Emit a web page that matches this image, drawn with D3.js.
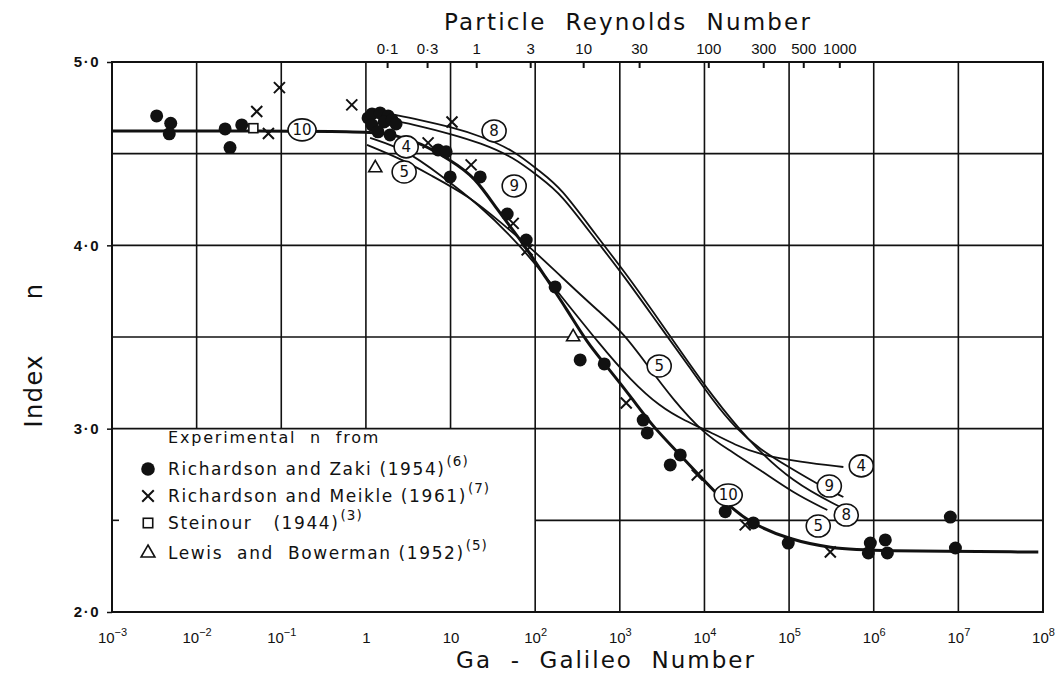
<!DOCTYPE html>
<html>
<head>
<meta charset="utf-8">
<script src="https://cdn.jsdelivr.net/npm/d3@7"></script>
<style>
  body { margin: 0; background: #fff; }
  svg { display: block; font-family: "DejaVu Sans", "Liberation Sans", sans-serif; }
</style>
</head>
<body>
<svg id="chart" width="1058" height="674"></svg>
<script>
// ---- Axis values -------------------------------------------------------
const decadeExps = [-3, -2, -1, 0, 1, 2, 3, 4, 5, 6, 7, 8];
const nTicks = [2, 3, 4, 5];
const nTickLabels = ["2·0", "3·0", "4·0", "5·0"];
const gridN = [4.5, 4.0, 3.5, 3.0, 2.5];

// Particle Reynolds number marks on the upper axis, placed at their Galileo number
const reTickGa = [1.78, 5.28, 20.1, 87.3, 369, 1690, 11100, 49500, 147000, 392000];
const reTickLabels = ["0·1", "0·3", "1", "3", "10", "30", "100", "300", "500", "1000"];

// ---- Correlation curves: [Ga, n] ---------------------------------------
const curve10 = [[1e-3, 4.624], [1.12, 4.624], [2.2, 4.602], [4.4, 4.559], [9.9, 4.466],
  [19.5, 4.373], [35.6, 4.193], [72, 4.013], [139, 3.811], [239, 3.648], [412, 3.468],
  [710, 3.337], [1440, 3.157], [2480, 3.009], [5180, 2.857], [15400, 2.622],
  [32100, 2.491], [1.03e5, 2.393], [3.07e5, 2.349], [9.9e5, 2.333], [8.8e7, 2.327]];
const curve5 = [[1.03, 4.548], [2.75, 4.466], [5.74, 4.384], [17.1, 4.264], [38.5, 4.128],
  [94.6, 3.975], [198, 3.833], [586, 3.632], [1100, 3.523], [2110, 3.347], [4280, 3.157],
  [9680, 2.977], [18600, 2.889], [45700, 2.775], [112000, 2.649], [283000, 2.556]];
const curve4 = [[1.12, 4.586], [2.99, 4.520], [7.53, 4.384], [20.6, 4.231], [66.5, 4.003],
  [198, 3.729], [586, 3.457], [1330, 3.266], [3010, 3.118], [5930, 3.042], [11700, 2.982],
  [23100, 2.911], [45700, 2.857], [135000, 2.818], [438000, 2.791]];
const curve8 = [[1.93, 4.717], [4.38, 4.684], [9.9, 4.646], [22.4, 4.597], [55, 4.520],
  [115, 4.400], [198, 4.319], [541, 4.046], [1100, 3.866], [3010, 3.582], [6790, 3.347],
  [11700, 3.195], [32100, 2.938], [112000, 2.704], [403000, 2.573]];
const curve9 = [[1.93, 4.684], [4.38, 4.651], [9.9, 4.608], [22.4, 4.559], [55, 4.482],
  [115, 4.368], [198, 4.286], [541, 4.019], [1100, 3.838], [3010, 3.555], [6790, 3.331],
  [12400, 3.157], [23100, 3.004], [45700, 2.884], [103000, 2.786], [215000, 2.698],
  [438000, 2.627]];

// circled curve numbers: [label, Ga, n]
const curveLabels = [["10", 0.176, 4.63], ["4", 2.99, 4.537], ["5", 2.83, 4.40],
  ["8", 32.7, 4.624], ["9", 56.5, 4.324], ["5", 2920, 3.342], ["10", 19100, 2.638],
  ["4", 713000, 2.797], ["9", 299000, 2.687], ["8", 474000, 2.529], ["5", 221000, 2.469]];

// ---- Experimental points: [Ga, n] --------------------------------------
const zakiPts = [[0.00337, 4.706], [0.00494, 4.666], [0.00475, 4.608], [0.0217, 4.635],
  [0.0341, 4.657], [0.0248, 4.533], [1.06, 4.695], [1.18, 4.717], [1.47, 4.722],
  [1.83, 4.706], [1.18, 4.657], [1.64, 4.673], [2.04, 4.684], [1.39, 4.619], [1.93, 4.602],
  [2.27, 4.662], [7.13, 4.520], [8.87, 4.510], [9.9, 4.373], [22.4, 4.373], [46.7, 4.171],
  [78.3, 4.029], [172, 3.773], [340, 3.375], [655, 3.353], [1890, 3.047], [2110, 2.977],
  [5180, 2.857], [3940, 2.802], [17600, 2.547], [37800, 2.486], [97800, 2.376],
  [912000, 2.376], [1.37e6, 2.393], [1.45e6, 2.322], [863000, 2.322], [8.04e6, 2.518],
  [9.23e6, 2.349]];
const meiklePts = [[0.0513, 4.73], [0.0705, 4.61], [0.0951, 4.86], [0.681, 4.766],
  [5.43, 4.559], [10.4, 4.673], [17.5, 4.439], [55, 4.12], [80.4, 3.975], [1190, 3.14],
  [8220, 2.747], [30300, 2.475], [307000, 2.327]];
const steinourPts = [[0.0468, 4.639]];
const lewisPts = [[1.29, 4.422], [281, 3.50]];

// ---- Legend entries ------------------------------------------------------
const legendTitle = "Experimental  n  from";
const legendNames = ["Richardson and Zaki (1954)", "Richardson and Meikle (1961)",
  "Steinour   (1944)", "Lewis  and  Bowerman (1952)"];
const legendRefs = ["(6)", "(7)", "(3)", "(5)"];
const legendKinds = ["dot", "cross", "square", "triangle"];

// ---- Drawing -------------------------------------------------------------
const svg = d3.select("#chart");
const ink = "#111";
const x = d3.scaleLog().domain([1e-3, 1e8]).range([112, 1043]);
const y = d3.scaleLinear().domain([2, 5]).range([612, 62]);

// grid: the lower-left panel is left clear for the key
const grid = svg.append("g").attr("stroke", ink).attr("stroke-width", 1.6);
grid.selectAll("line.v")
  .data(decadeExps.filter(e => e > -3 && e < 8))
  .join("line").attr("class", "v")
  .attr("x1", e => x(10 ** e)).attr("x2", e => x(10 ** e))
  .attr("y1", y(5)).attr("y2", e => (e < 2 ? y(3) : y(2)));
grid.selectAll("line.h")
  .data(gridN)
  .join("line").attr("class", "h")
  .attr("x1", n => (n < 3 ? x(100) : x(1e-3))).attr("x2", x(1e8))
  .attr("y1", n => y(n)).attr("y2", n => y(n));
// short mark for n = 2.5 on the left edge
grid.append("line")
  .attr("x1", x(1e-3)).attr("x2", x(1e-3) + 7)
  .attr("y1", y(2.5)).attr("y2", y(2.5));

// frame
svg.append("rect")
  .attr("x", x(1e-3)).attr("y", y(5))
  .attr("width", x(1e8) - x(1e-3)).attr("height", y(2) - y(5))
  .attr("fill", "none").attr("stroke", ink).attr("stroke-width", 2);

// left axis
const leftAxis = svg.append("g").attr("transform", `translate(${x(1e-3)},0)`)
  .call(d3.axisLeft(y).tickValues(nTicks).tickFormat((d, i) => nTickLabels[i])
    .tickSize(5).tickPadding(7));
leftAxis.select(".domain").remove();
leftAxis.selectAll("line").attr("stroke", ink).attr("stroke-width", 1.5);
leftAxis.selectAll("text").attr("font-size", 15).attr("font-weight", "bold")
  .attr("letter-spacing", 1.5).attr("fill", ink);

// upper axis: particle Reynolds number
const reAxis = svg.append("g").attr("transform", `translate(0,${y(5)})`)
  .call(d3.axisTop(x).tickValues(reTickGa).tickFormat((d, i) => reTickLabels[i])
    .tickSize(-6).tickPadding(8));
reAxis.select(".domain").remove();
reAxis.selectAll("line").attr("stroke", ink).attr("stroke-width", 2);
reAxis.selectAll("text").attr("font-size", 15).attr("fill", ink);

// lower axis labels (powers of ten)
const gaAxis = svg.append("g").attr("transform", `translate(0,${y(2)})`)
  .call(d3.axisBottom(x).tickValues(decadeExps.map(e => 10 ** e)).tickSize(0).tickFormat(() => ""));
gaAxis.select(".domain").remove();
const bl = gaAxis.selectAll(".tick").append("text")
  .attr("y", 31).attr("fill", ink).attr("font-size", 15).attr("text-anchor", "middle");
bl.append("tspan").text(d => {
  const e = Math.round(Math.log10(d));
  return e === 0 ? "1" : "10";
});
bl.append("tspan").attr("dy", -7).attr("font-size", 11)
  .text(d => {
    const e = Math.round(Math.log10(d));
    return (e === 0 || e === 1) ? "" : (e < 0 ? "\u2212" + (-e) : String(e));
  });

// axis titles
svg.append("text").attr("x", 628).attr("y", 30).attr("text-anchor", "middle")
  .attr("font-size", 23).attr("letter-spacing", 2.2).attr("fill", ink)
  .attr("style", "white-space:pre").text("Particle  Reynolds  Number");
svg.append("text").attr("x", 606).attr("y", 668).attr("text-anchor", "middle")
  .attr("font-size", 23).attr("letter-spacing", 2).attr("fill", ink)
  .attr("style", "white-space:pre").text("Ga  -  Galileo  Number");
svg.append("text").attr("transform", "translate(42,355) rotate(-90)")
  .attr("text-anchor", "middle").attr("font-size", 24).attr("letter-spacing", 1.5)
  .attr("fill", ink).attr("style", "white-space:pre").text("Index      n");

// correlation curves (smooth B-splines through the read-off points)
const line = d3.line().x(d => x(d[0])).y(d => y(d[1])).curve(d3.curveBasis);
const curves = [[curve4, 1.8], [curve5, 1.8], [curve8, 1.8], [curve9, 1.8], [curve10, 3]];
svg.append("g").selectAll("path").data(curves).join("path")
  .attr("d", d => line(d[0])).attr("fill", "none").attr("stroke", ink)
  .attr("stroke-width", d => d[1]).attr("stroke-linejoin", "round");

// circled curve numbers
const lab = svg.append("g").selectAll("g").data(curveLabels).join("g")
  .attr("transform", d => `translate(${x(d[1])},${y(d[2])})`);
lab.append("ellipse").attr("rx", d => (d[0].length > 1 ? 14 : 12)).attr("ry", 11)
  .attr("fill", "#fff").attr("stroke", ink).attr("stroke-width", 1.6);
lab.append("text").attr("text-anchor", "middle").attr("dy", "0.36em")
  .attr("font-size", 15).attr("fill", ink).text(d => d[0]);

// point markers
function marker(sel, kind, s) {
  if (kind === "dot") {
    sel.append("circle").attr("r", 6.5 * s).attr("fill", ink);
  } else if (kind === "cross") {
    const h = 5.5 * s;
    sel.append("path").attr("d", `M${-h},${-h}L${h},${h}M${-h},${h}L${h},${-h}`)
      .attr("stroke", ink).attr("stroke-width", 2).attr("fill", "none");
  } else if (kind === "square") {
    sel.append("rect").attr("x", -4.5 * s).attr("y", -4.5 * s)
      .attr("width", 9 * s).attr("height", 9 * s)
      .attr("fill", "#fff").attr("stroke", ink).attr("stroke-width", 1.6);
  } else {
    sel.append("path").attr("d", d3.symbol(d3.symbolTriangle, 75 * s * s)())
      .attr("fill", "#fff").attr("stroke", ink).attr("stroke-width", 1.6);
  }
}
const sets = [[zakiPts, "dot"], [meiklePts, "cross"], [steinourPts, "square"], [lewisPts, "triangle"]];
sets.forEach(([pts, kind]) => {
  svg.append("g").selectAll("g").data(pts).join("g")
    .attr("transform", d => `translate(${x(d[0])},${y(d[1])})`)
    .each(function () { marker(d3.select(this), kind, 1); });
});

// key
const key = svg.append("g").attr("fill", ink);
key.append("text").attr("x", 168).attr("y", 443).attr("font-size", 16)
  .attr("letter-spacing", 1.8).attr("style", "white-space:pre").text(legendTitle);
const rowY = [475, 502, 529, 559];
legendNames.forEach((name, i) => {
  const g = key.append("g").attr("transform", `translate(148,${rowY[i] - 6})`);
  marker(g, legendKinds[i], 1.05);
  const t = key.append("text").attr("x", 168).attr("y", rowY[i]).attr("font-size", 17)
    .attr("letter-spacing", 1.6).attr("style", "white-space:pre").text(name);
  const w = t.node().getComputedTextLength();
  key.append("text").attr("x", 168 + w + 1).attr("y", rowY[i] - 9)
    .attr("font-size", 13.5).attr("letter-spacing", 1).text(legendRefs[i]);
});
</script>
</body>
</html>
